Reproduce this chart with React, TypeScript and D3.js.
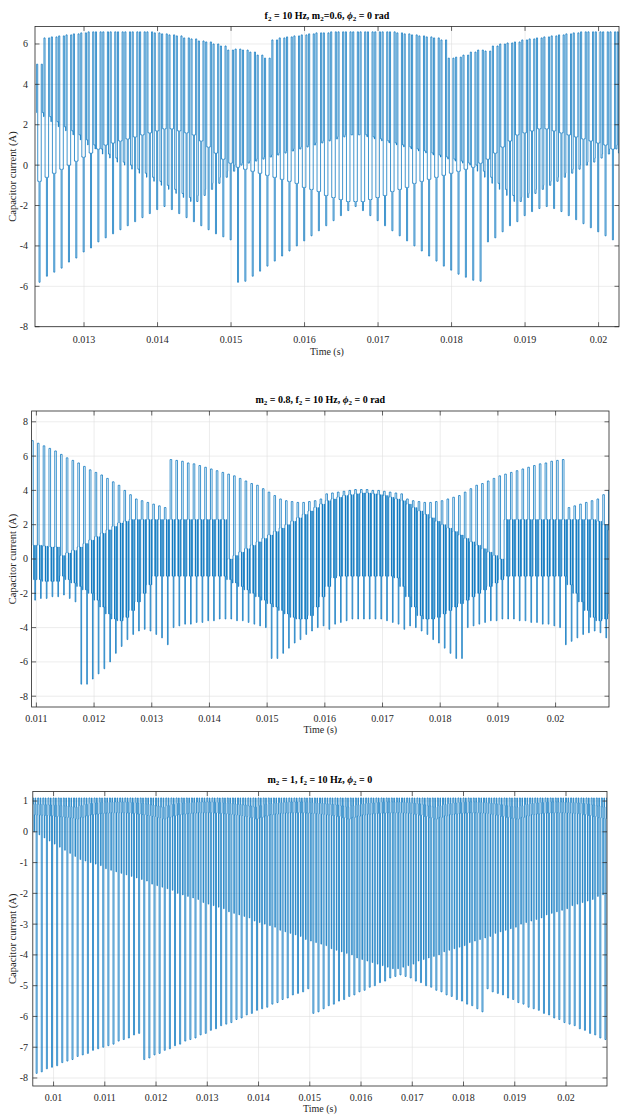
import React from "react";
import * as d3 from "d3";

// ---------- shared ----------
const PERIOD = 0.0001; // switching period (s)
const FONT = '"Liberation Serif", "Times New Roman", serif';
const LINE_COLOR = "#0072BD";

// ---------- panel 1 : f2 = 10 Hz, m2 = 0.6 ----------
const p1Start = 0.01235;
const p1High = [
  5.0, 6.3, 6.35, 6.4, 6.45, 6.5, 6.55, 6.6,
  6.6, 6.6, 6.6, 6.6, 6.6, 6.6, 6.6, 6.6,
  6.55, 6.5, 6.45, 6.4, 6.3, 6.25, 6.15, 6.1, 6.0, 5.9, 5.7, 5.75, 5.7, 5.6, 5.45, 5.3,
  6.2, 6.3, 6.35, 6.4, 6.45, 6.5, 6.55, 6.55,
  6.6, 6.6, 6.6, 6.6, 6.6, 6.6, 6.6, 6.6, 6.6,
  6.55, 6.5, 6.45, 6.4, 6.35, 6.3, 6.2, 5.3, 5.35, 5.45, 5.6, 5.7, 5.65,
  5.9, 6.0, 6.05, 6.1, 6.2, 6.25, 6.3, 6.35, 6.4, 6.45, 6.5, 6.55,
  6.6, 6.6, 6.6, 6.6, 6.6, 6.6,
];
const p1Low = [
  -5.8, -5.5, -5.3, -5.1, -4.8, -4.6, -4.3, -4.1, -3.8, -3.6, -3.4, -3.2, -3.0, -2.8, -2.6, -2.4, -2.2, -2.05,
  -2.2, -2.4, -2.6, -2.8, -3.0, -3.2, -3.4, -3.55, -3.7,
  -5.8, -5.75, -5.5, -5.25, -5.0, -4.75, -4.5, -4.25, -4.0, -3.75, -3.5, -3.25, -3.0, -2.75, -2.5, -2.25, -2.05,
  -2.25, -2.5, -2.75, -3.0, -3.25, -3.5, -3.75, -4.0, -4.25, -4.5, -4.75, -5.0, -5.2, -5.4, -5.55, -5.7, -5.75,
  -3.8, -3.6, -3.3, -3.0, -2.8, -2.5, -2.3, -2.15, -2.05, -2.15, -2.3, -2.5, -2.7, -2.9, -3.1, -3.3, -3.5, -3.7, -3.9,
];
const p1LevelA = [
  2.6, 2.4, 2.15, 1.9, 1.7, 1.5, 1.25, 1.0, 0.8, 0.55, 0.35, 0.15, 0.0, -0.2, -0.4, -0.6, -0.8, -1.0, -1.2, -1.4,
  -1.6, -1.8, -1.5, -1.2, -0.9, -0.6, -0.3, 0.0,
  0.1, 0.2, 0.3, 0.4, 0.5, 0.6, 0.7, 0.8, 0.9, 1.0, 1.1, 1.2, 1.3, 1.4, 1.5, 1.5, 1.5,
  1.4, 1.3, 1.2, 1.1, 1.0, 0.9, 0.8, 0.7, 0.6, 0.5, 0.4, 0.3, 0.2, 0.1, 0.0,
  -0.3, -0.6, -0.9, -1.2, -1.5, -1.8, -1.6, -1.4, -1.2, -1.0, -0.8, -0.6, -0.4, -0.2, 0.0, 0.15, 0.35, 0.55, 0.8, 1.0,
];
const p1LevelB = [
  -0.8, -0.6, -0.4, -0.2, 0.0, 0.2, 0.4, 0.6, 0.8, 1.0, 1.1, 1.2, 1.3, 1.4, 1.5, 1.6, 1.7, 1.8, 1.8, 1.7,
  1.6, 1.5, 1.2, 0.9, 0.6, 0.3, 0.1, -0.1,
  -0.2, -0.3, -0.4, -0.5, -0.6, -0.7, -0.8, -0.9, -1.1, -1.2, -1.3, -1.5, -1.6, -1.7, -1.8, -1.8, -1.8,
  -1.7, -1.6, -1.5, -1.3, -1.2, -1.1, -0.9, -0.8, -0.7, -0.6, -0.5, -0.4, -0.3, -0.2, -0.1,
  0.1, 0.3, 0.6, 0.9, 1.2, 1.5, 1.6, 1.7, 1.8, 1.8, 1.7, 1.6, 1.5, 1.4, 1.3, 1.2, 1.1, 1.0, 0.8, 0.6,
];
const p1XTicks = [0.013, 0.014, 0.015, 0.016, 0.017, 0.018, 0.019, 0.02];
const p1XLabels = ["0.013", "0.014", "0.015", "0.016", "0.017", "0.018", "0.019", "0.02"];
const p1YTicks = [-8, -6, -4, -2, 0, 2, 4, 6];

// ---------- panel 2 : m2 = 0.8 ----------
const p2Start = 0.0109;
const p2High = [
  6.9, 6.75, 6.6, 6.45, 6.3, 6.1, 5.9, 5.75, 5.6, 5.4, 5.2, 5.05, 4.9, 4.7, 4.5, 4.3, 4.0, 3.75, 3.5, 3.4, 3.3, 3.2, 3.1, 3.0,
  5.8, 5.75, 5.7, 5.6, 5.55, 5.45, 5.35, 5.25, 5.15, 5.05, 4.95, 4.85, 4.7, 4.55, 4.4, 4.3, 4.1, 3.9, 3.7, 3.5,
  3.4, 3.35, 3.3, 3.3, 3.35, 3.4, 3.5,
  3.8, 3.85, 3.9, 3.95, 4.0, 4.05, 4.05, 4.05, 4.0, 4.0, 3.95, 3.9, 3.85, 3.8,
  3.5, 3.4, 3.35, 3.3, 3.3, 3.35, 3.4, 3.5, 3.6, 3.7, 3.9, 4.1, 4.3, 4.4, 4.55, 4.7, 4.85, 4.95, 5.05, 5.15,
  5.25, 5.35, 5.45, 5.55, 5.6, 5.7, 5.75, 5.8,
  3.0, 3.1, 3.2, 3.3, 3.4, 3.5, 3.75, 4.0,
];
const p2BandTop = [
  0.8, 0.8, 0.75, 0.7, 0.7,
  0.2, 0.35, 0.5, 0.7, 0.9, 1.1, 1.3, 1.5, 1.7, 1.9, 2.1, 2.2, 2.3,
  2.3, 2.3, 2.3, 2.3, 2.3, 2.3, 2.3, 2.3, 2.3, 2.3, 2.3, 2.3, 2.3, 2.3, 2.3, 2.3,
  0.0, 0.2, 0.4, 0.6, 0.8, 1.0, 1.2, 1.4, 1.6, 1.8, 2.0, 2.2, 2.4, 2.6, 2.8, 3.0, 3.2, 3.4,
  3.5, 3.6, 3.7, 3.75, 3.8, 3.85, 3.85, 3.8, 3.75, 3.7, 3.6, 3.5,
  3.4, 3.2, 3.0, 2.8, 2.6, 2.4, 2.2, 2.0, 1.8, 1.6, 1.4, 1.2, 1.0, 0.8, 0.6, 0.4, 0.2, 0.0,
  2.3, 2.3, 2.3, 2.3, 2.3, 2.3, 2.3, 2.3, 2.3, 2.3, 2.3, 2.3, 2.3, 2.3, 2.3, 2.3,
  2.2, 2.0, 1.7,
];
const p2BandBottom = [
  -1.2, -1.2, -1.3, -1.3, -1.3, -1.0, -1.2, -1.4, -1.6, -1.8, -2.0, -2.4, -2.8, -3.2, -3.5, -3.6, -3.4, -3.0, -2.5, -2.0, -1.5, -1.0,
  -1.0, -1.0, -1.0, -1.0, -1.0, -1.0, -1.0, -1.0, -1.0, -1.0, -1.0, -1.0,
  -1.2, -1.4, -1.6, -1.8, -2.0, -2.2, -2.4, -2.6, -2.8, -3.0, -3.2, -3.4, -3.5, -3.5, -3.3, -2.8, -2.2, -1.6,
  -1.1, -1.0, -1.0, -1.0, -1.0, -1.0, -1.0, -1.0, -1.0, -1.0, -1.0, -1.1,
  -1.6, -2.2, -2.8, -3.3, -3.5, -3.5, -3.4, -3.2, -3.0, -2.8, -2.6, -2.4, -2.2, -2.0, -1.8, -1.6, -1.4, -1.2,
  -1.0, -1.0, -1.0, -1.0, -1.0, -1.0, -1.0, -1.0, -1.0, -1.0, -1.0,
  -1.5, -2.0, -2.5, -3.0, -3.4, -3.6, -3.5, -3.2,
];
const p2Low = [
  -2.4, -2.3, -2.3, -2.2, -2.2, -2.1, -2.3, -2.5,
  -7.3, -7.3, -7.0, -6.7, -6.4, -6.0, -5.5, -5.1, -4.7, -4.4, -4.2, -4.1, -4.2, -4.4, -4.6, -5.0,
  -4.0, -3.9, -3.8, -3.8, -3.7, -3.7, -3.6, -3.6, -3.5, -3.5, -3.5, -3.6, -3.6, -3.7, -3.8, -3.9, -4.0,
  -5.8, -5.8, -5.5, -5.2, -4.9, -4.7, -4.4, -4.2, -4.0, -3.9, -4.1, -3.8, -3.7, -3.6, -3.5, -3.5, -3.5, -3.5,
  -3.5, -3.5, -3.6, -3.7, -3.8, -4.1, -3.9, -4.0, -4.2, -4.4, -4.7, -4.9, -5.2, -5.5, -5.8, -5.8,
  -4.0, -3.9, -3.8, -3.7, -3.6, -3.6, -3.5, -3.5, -3.5, -3.6, -3.6, -3.7, -3.7, -3.8, -3.8, -3.9, -4.0,
  -5.0, -4.8, -4.6, -4.4, -4.3, -4.2, -4.3, -4.6, -4.8,
];
const p2XTicks = [0.011, 0.012, 0.013, 0.014, 0.015, 0.016, 0.017, 0.018, 0.019, 0.02];
const p2XLabels = ["0.011", "0.012", "0.013", "0.014", "0.015", "0.016", "0.017", "0.018", "0.019", "0.02"];
const p2YTicks = [-8, -6, -4, -2, 0, 2, 4, 6, 8];

// ---------- panel 3 : m2 = 1 ----------
const p3Start = 0.0096;
const p3Top = 1.1;
const p3Wave = [
  0.9, 0.89, 0.88, 0.87, 0.86, 0.85, 0.84, 0.82, 0.8,
  0.85, 0.89, 0.92, 0.94, 0.95, 0.96, 0.97, 0.97, 0.97,
  0.96, 0.95, 0.94, 0.92, 0.9, 0.87, 0.84, 0.8,
  0.85, 0.89, 0.92, 0.94, 0.95, 0.96, 0.97, 0.97, 0.97,
  0.96, 0.95, 0.94, 0.93, 0.91, 0.89, 0.87, 0.84, 0.8,
  0.85, 0.89, 0.92, 0.94, 0.95, 0.96, 0.97, 0.97, 0.97,
  0.96, 0.95, 0.94, 0.93, 0.91, 0.89, 0.87, 0.84, 0.8,
  0.85, 0.88, 0.91, 0.93, 0.94, 0.95, 0.96, 0.97, 0.97, 0.97,
  0.96, 0.95, 0.93, 0.91, 0.88, 0.84, 0.8,
  0.85, 0.89, 0.92, 0.94, 0.95, 0.96, 0.97, 0.97,
  0.96, 0.95, 0.93, 0.91, 0.88, 0.85, 0.82, 0.8,
  0.85, 0.89, 0.92, 0.94, 0.95, 0.96, 0.97, 0.97, 0.97,
  0.96, 0.95, 0.94, 0.92, 0.9, 0.87, 0.84, 0.81,
];
const p3Band = [
  0.55, 0.54, 0.53, 0.52, 0.5, 0.49, 0.47, 0.45, 0.42,
  0.47, 0.52, 0.56, 0.58, 0.6, 0.61, 0.62, 0.62, 0.62,
  0.61, 0.6, 0.58, 0.56, 0.53, 0.5, 0.46, 0.42,
  0.47, 0.52, 0.56, 0.58, 0.6, 0.61, 0.62, 0.62, 0.62,
  0.61, 0.6, 0.59, 0.57, 0.55, 0.53, 0.5, 0.46, 0.42,
  0.47, 0.52, 0.56, 0.58, 0.6, 0.61, 0.62, 0.62, 0.62,
  0.61, 0.6, 0.59, 0.57, 0.55, 0.53, 0.5, 0.46, 0.42,
  0.47, 0.51, 0.55, 0.57, 0.59, 0.6, 0.61, 0.62, 0.62, 0.62,
  0.61, 0.6, 0.57, 0.54, 0.5, 0.46, 0.42,
  0.47, 0.52, 0.56, 0.58, 0.6, 0.61, 0.62, 0.62,
  0.61, 0.6, 0.57, 0.54, 0.5, 0.47, 0.44, 0.42,
  0.47, 0.52, 0.56, 0.58, 0.6, 0.61, 0.62, 0.62, 0.62,
  0.61, 0.6, 0.59, 0.56, 0.53, 0.5, 0.46, 0.43,
];
const p3Mid = [
  0.0, -0.1, -0.2, -0.3, -0.4, -0.5, -0.6, -0.7, -0.8, -0.9,
  -0.95, -1.0, -1.05, -1.1, -1.2, -1.25, -1.3, -1.35, -1.4, -1.45,
  -1.5, -1.55, -1.6, -1.7, -1.75, -1.8, -1.85, -1.9, -2.0, -2.05,
  -2.1, -2.15, -2.2, -2.3, -2.35, -2.4, -2.45, -2.5, -2.6, -2.65,
  -2.7, -2.75, -2.8, -2.9, -2.95, -3.0, -3.05, -3.1, -3.2, -3.25,
  -3.3, -3.35, -3.4, -3.5, -3.55, -3.6, -3.65, -3.7, -3.8, -3.85,
  -3.9, -3.95, -4.0, -4.1, -4.15, -4.2, -4.25, -4.3, -4.35, -4.4,
  -4.45, -4.45, -4.4, -4.35, -4.3, -4.2, -4.15, -4.1, -4.05, -4.0,
  -3.9, -3.85, -3.8, -3.75, -3.7, -3.6, -3.55, -3.5, -3.45, -3.4,
  -3.3, -3.25, -3.2, -3.15, -3.1, -3.0, -2.95, -2.9, -2.85, -2.8,
  -2.7, -2.65, -2.6, -2.55, -2.5, -2.4, -2.35, -2.3, -2.25, -2.2,
  -2.1, -2.05,
];
const p3Low = [
  -7.85, -7.8, -7.7, -7.65, -7.6, -7.5, -7.45, -7.4, -7.3, -7.25, -7.2, -7.1, -7.05, -7.0, -6.95, -6.9, -6.8, -6.75, -6.7, -6.6, -6.55,
  -7.4, -7.35, -7.25, -7.2, -7.1, -7.05, -6.95, -6.9, -6.8, -6.75, -6.7, -6.6, -6.55, -6.45, -6.4, -6.3, -6.25, -6.2, -6.1, -6.05,
  -5.95, -5.9, -5.8, -5.75, -5.7, -5.6, -5.55, -5.45, -5.4, -5.3, -5.25, -5.2, -5.1,
  -5.9, -5.85, -5.75, -5.65, -5.6, -5.5, -5.45, -5.35, -5.3, -5.2, -5.15, -5.05, -5.0, -4.9, -4.85, -4.75, -4.7,
  -4.65, -4.7, -4.75, -4.85, -4.9, -5.0, -5.05, -5.15, -5.2, -5.3, -5.35, -5.45, -5.5, -5.6, -5.65, -5.75, -5.85,
  -5.1, -5.2, -5.25, -5.3, -5.4, -5.45, -5.55, -5.6, -5.7, -5.75, -5.8, -5.9, -5.95, -6.05, -6.1, -6.2, -6.25, -6.3,
  -6.4, -6.45, -6.55, -6.6, -6.7, -6.75,
];
const p3XTicks = [0.01, 0.011, 0.012, 0.013, 0.014, 0.015, 0.016, 0.017, 0.018, 0.019, 0.02];
const p3XLabels = ["0.01", "0.011", "0.012", "0.013", "0.014", "0.015", "0.016", "0.017", "0.018", "0.019", "0.02"];
const p3YTicks = [-8, -7, -6, -5, -4, -3, -2, -1, 0, 1];

// ---------- helpers ----------
type Pt = [number, number];
type Step = [number, number]; // [fraction of period, new level]

function stepWave(start: number, n: number, steps: (k: number) => Step[]): Pt[] {
  const pts: Pt[] = [];
  let cur = steps(0)[0][1];
  for (let k = 0; k < n; k++) {
    for (const [f, v] of steps(k)) {
      const t = start + (k + f) * PERIOD;
      pts.push([t, cur]);
      pts.push([t, v]);
      cur = v;
    }
  }
  pts.push([start + n * PERIOD, cur]);
  return pts;
}

// two high pulses and one low spike per switching period
const wave1 = stepWave(p1Start, p1High.length, (k) => [
  [0, p1LevelA[k]],
  [0.05, p1High[k]],
  [0.2, p1LevelB[k]],
  [0.38, p1Low[k]],
  [0.52, p1LevelB[k]],
  [0.68, p1High[k]],
  [0.83, p1LevelA[k]],
]);

const wave2 = stepWave(p2Start, p2High.length, (k) => [
  [0, p2BandBottom[k]],
  [0.08, p2BandTop[k]],
  [0.18, p2High[k]],
  [0.46, p2BandTop[k]],
  [0.54, p2BandBottom[k]],
  [0.59, p2BandTop[k]],
  [0.64, p2BandBottom[k]],
  [0.72, p2Low[k]],
  [0.84, p2BandBottom[k]],
  [0.9, p2BandTop[k]],
  [0.95, p2BandBottom[k]],
]);

const wave3 = stepWave(p3Start, p3Low.length, (k) => [
  [0, p3Top],
  [0.1, p3Wave[k]],
  [0.18, p3Mid[k]],
  [0.28, p3Band[k]],
  [0.4, p3Top],
  [0.52, p3Wave[k]],
  [0.6, p3Low[k]],
  [0.8, p3Band[k]],
  [0.9, p3Top],
]);

type TitlePart = { t: string; sub?: boolean; it?: boolean };

interface PanelCfg {
  id: string;
  left: number;
  right: number;
  top: number;
  bottom: number;
  xDomain: [number, number];
  yDomain: [number, number];
  xTicks: number[];
  xLabels: string[];
  yTicks: number[];
  title: TitlePart[];
  titleY: number;
  tickLabelY: number;
  xLabelY: number;
  points: Pt[];
}

const panels: PanelCfg[] = [
  {
    id: "clip1",
    left: 35,
    right: 619,
    top: 26.4,
    bottom: 326.7,
    xDomain: [0.012333, 0.020278],
    yDomain: [-8, 6.87],
    xTicks: p1XTicks,
    xLabels: p1XLabels,
    yTicks: p1YTicks,
    title: [
      { t: "f" }, { t: "2", sub: true }, { t: " = 10 Hz, m" }, { t: "2", sub: true },
      { t: "=0.6, " }, { t: "ϕ", it: true }, { t: "2", sub: true }, { t: " = 0 rad" },
    ],
    titleY: 18.5,
    tickLabelY: 342.5,
    xLabelY: 354.5,
    points: wave1,
  },
  {
    id: "clip2",
    left: 31.6,
    right: 609,
    top: 411,
    bottom: 707,
    xDomain: [0.010917, 0.020926],
    yDomain: [-8.63, 8.63],
    xTicks: p2XTicks,
    xLabels: p2XLabels,
    yTicks: p2YTicks,
    title: [
      { t: "m" }, { t: "2", sub: true }, { t: " = 0.8, f" }, { t: "2", sub: true },
      { t: " = 10 Hz, " }, { t: "ϕ", it: true }, { t: "2", sub: true }, { t: " = 0 rad" },
    ],
    titleY: 402.5,
    tickLabelY: 721.5,
    xLabelY: 732.5,
    points: wave2,
  },
  {
    id: "clip3",
    left: 32.8,
    right: 607,
    top: 791.5,
    bottom: 1086,
    xDomain: [0.009595, 0.0208],
    yDomain: [-8.26, 1.31],
    xTicks: p3XTicks,
    xLabels: p3XLabels,
    yTicks: p3YTicks,
    title: [
      { t: "m" }, { t: "2", sub: true }, { t: " = 1, f" }, { t: "2", sub: true },
      { t: " = 10 Hz, " }, { t: "ϕ", it: true }, { t: "2", sub: true }, { t: " = 0" },
    ],
    titleY: 782.5,
    tickLabelY: 1100.5,
    xLabelY: 1111.5,
    points: wave3,
  },
];

function Title({ parts, x, y }: { parts: TitlePart[]; x: number; y: number }) {
  let prevSub = false;
  const spans = parts.map((p, i) => {
    let dy = 0;
    if (p.sub && !prevSub) dy = 2.5;
    if (!p.sub && prevSub) dy = -2.5;
    prevSub = !!p.sub;
    return (
      <tspan key={i} dy={dy} fontSize={p.sub ? 7 : 10} fontStyle={p.it ? "italic" : undefined}>
        {p.t}
      </tspan>
    );
  });
  return (
    <text x={x} y={y} textAnchor="middle" fontFamily={FONT} fontWeight="bold" fontSize={10} fill="#000">
      {spans}
    </text>
  );
}

function Panel({ cfg }: { cfg: PanelCfg }) {
  const x = d3.scaleLinear().domain(cfg.xDomain).range([cfg.left, cfg.right]);
  const y = d3.scaleLinear().domain(cfg.yDomain).range([cfg.bottom, cfg.top]);
  const line = d3
    .line<Pt>()
    .x((d) => x(d[0]))
    .y((d) => y(d[1]));
  const w = cfg.right - cfg.left;
  const h = cfg.bottom - cfg.top;
  const tl = 4.5;
  const axisColor = "#262626";
  const cx = (cfg.left + cfg.right) / 2;
  const cy = (cfg.top + cfg.bottom) / 2;
  return (
    <g>
      <defs>
        <clipPath id={cfg.id}>
          <rect x={cfg.left} y={cfg.top} width={w} height={h} />
        </clipPath>
      </defs>
      <rect x={cfg.left} y={cfg.top} width={w} height={h} fill="#fff" />
      <g stroke="#dfdfdf" strokeWidth={0.6}>
        {cfg.xTicks.map((t) => (
          <line key={"gx" + t} x1={x(t)} x2={x(t)} y1={cfg.top} y2={cfg.bottom} />
        ))}
        {cfg.yTicks.map((t) => (
          <line key={"gy" + t} x1={cfg.left} x2={cfg.right} y1={y(t)} y2={y(t)} />
        ))}
      </g>
      <path
        d={line(cfg.points) || ""}
        fill="none"
        stroke={LINE_COLOR}
        strokeWidth={0.75}
        strokeLinejoin="miter"
        clipPath={`url(#${cfg.id})`}
      />
      <g stroke={axisColor} strokeWidth={0.7}>
        {cfg.xTicks.map((t) => (
          <g key={"tx" + t}>
            <line x1={x(t)} x2={x(t)} y1={cfg.bottom} y2={cfg.bottom - tl} />
            <line x1={x(t)} x2={x(t)} y1={cfg.top} y2={cfg.top + tl} />
          </g>
        ))}
        {cfg.yTicks.map((t) => (
          <g key={"ty" + t}>
            <line x1={cfg.left} x2={cfg.left + tl} y1={y(t)} y2={y(t)} />
            <line x1={cfg.right} x2={cfg.right - tl} y1={y(t)} y2={y(t)} />
          </g>
        ))}
      </g>
      <rect x={cfg.left} y={cfg.top} width={w} height={h} fill="none" stroke={axisColor} strokeWidth={0.8} />
      <g fontFamily={FONT} fontSize={10} fill={axisColor}>
        {cfg.xTicks.map((t, i) => (
          <text key={"lx" + t} x={x(t)} y={cfg.tickLabelY} textAnchor="middle">
            {cfg.xLabels[i]}
          </text>
        ))}
        {cfg.yTicks.map((t) => (
          <text key={"ly" + t} x={28} y={y(t) + 3.4} textAnchor="end">
            {String(t)}
          </text>
        ))}
      </g>
      <text x={cx} y={cfg.xLabelY} textAnchor="middle" fontFamily={FONT} fontSize={10} fill={axisColor}>
        Time (s)
      </text>
      <text
        transform={`translate(15.5,${cy}) rotate(-90)`}
        textAnchor="middle"
        fontFamily={FONT}
        fontSize={10.5}
        fill={axisColor}
      >
        Capacitor current (A)
      </text>
      <Title parts={cfg.title} x={cx} y={cfg.titleY} />
    </g>
  );
}

export default function App() {
  return (
    <svg
      width={620}
      height={1115}
      viewBox="0 0 620 1115"
      style={{ position: "absolute", left: 0, top: 0, background: "#fff", display: "block" }}
    >
      <rect x={0} y={0} width={620} height={1115} fill="#fff" />
      {panels.map((p) => (
        <Panel key={p.id} cfg={p} />
      ))}
    </svg>
  );
}
